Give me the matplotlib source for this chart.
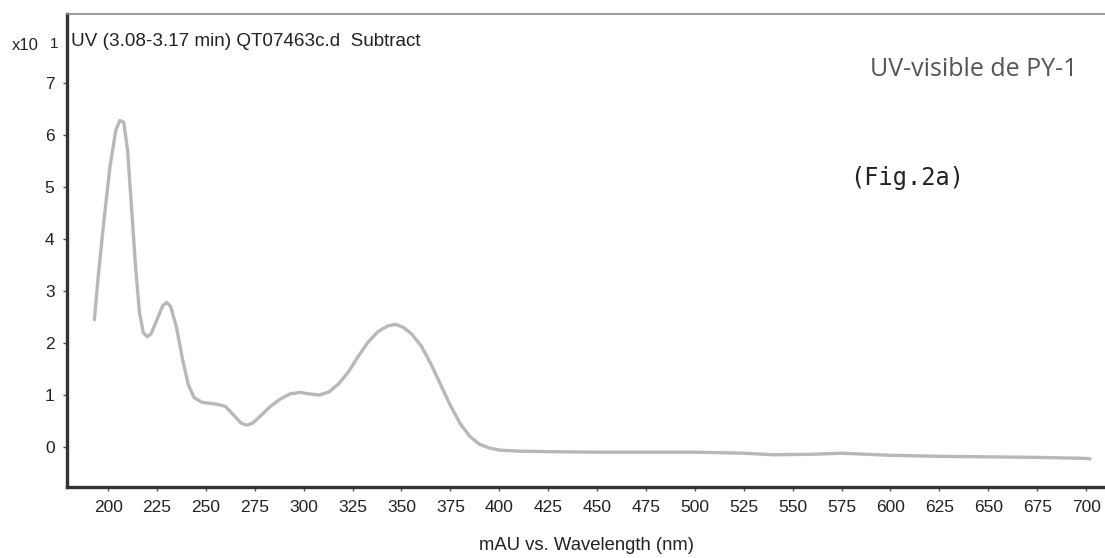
import matplotlib
matplotlib.use("Agg")
import matplotlib.pyplot as plt

wavelength = [193, 195, 198, 201, 204, 206, 208, 210, 212, 214, 216, 218, 220, 222,
              225, 228, 230, 232, 235, 238, 241, 244, 248, 252, 256, 260, 264, 268,
              271, 274, 278, 283, 288, 293, 298, 303, 308, 313, 318, 323, 328, 333,
              338, 343, 347, 351, 355, 360, 365, 370, 375, 380, 385, 390, 395, 400,
              410, 425, 450, 475, 500, 525, 540, 560, 575, 600, 625, 650, 675, 700, 702]
absorb = [2.45, 3.3, 4.4, 5.4, 6.1, 6.28, 6.25, 5.7, 4.6, 3.5, 2.6, 2.2, 2.12, 2.18,
          2.45, 2.72, 2.78, 2.7, 2.3, 1.7, 1.2, 0.95, 0.86, 0.84, 0.82, 0.78, 0.62, 0.46,
          0.42, 0.46, 0.6, 0.78, 0.92, 1.02, 1.05, 1.02, 1.0, 1.06, 1.22, 1.45, 1.75, 2.02,
          2.22, 2.33, 2.36, 2.3, 2.18, 1.95, 1.6, 1.2, 0.8, 0.45, 0.2, 0.05, -0.02, -0.06,
          -0.08, -0.09, -0.1, -0.1, -0.1, -0.12, -0.15, -0.14, -0.12, -0.16, -0.18, -0.19,
          -0.2, -0.22, -0.23]
xticks = list(range(200, 701, 25))
yticks = list(range(0, 8))

font = ['Liberation Sans', 'DejaVu Sans']

W, H = 1105, 558
fig = plt.figure(figsize=(W / 100, H / 100), dpi=100)
ax = fig.add_axes([67 / W, 1 - 487 / H, (1116 - 67) / W, (487 - 14) / H])
ax.plot(wavelength, absorb, color='#b8b8b8', lw=2.4, solid_capstyle='round',
        solid_joinstyle='round')
ax.set_xlim(179, 715.3)
ax.set_ylim(-0.77, 8.33)
ax.set_xticks(xticks)
ax.set_yticks(yticks)
ax.tick_params(axis='both', direction='out', length=3, width=1, colors='#555555',
               labelsize=12.5, labelcolor='#222222')
ax.tick_params(axis='x', pad=6)
ax.tick_params(axis='y', pad=6)
for lab in ax.get_xticklabels() + ax.get_yticklabels():
    lab.set_family(font)
for s in ['left', 'bottom']:
    ax.spines[s].set_linewidth(2.4)
    ax.spines[s].set_color('#333333')
ax.spines['top'].set_linewidth(1.2)
ax.spines['top'].set_color('#8a8a8a')
ax.spines['right'].set_visible(False)

ax.set_xlabel('mAU vs. Wavelength (nm)', fontsize=13.3, family=font, color='#222222')
ax.xaxis.set_label_coords(0.495, -0.124)
ax.xaxis.label.set_va('center')

fig.text(12 / W, 1 - 46 / H, 'x10', fontsize=12, family=font, color='#222222', va='center')
fig.text(50 / W, 1 - 44 / H, '1', fontsize=11, family=font, color='#222222', va='center')
fig.text(71 / W, 1 - 42 / H, 'UV (3.08-3.17 min) QT07463c.d  Subtract', fontsize=13.6,
         family=font, color='#222222', va='center')
fig.text(1078 / W, 1 - 69 / H, 'UV-visible de PY-1', fontsize=18,
         family=['Open Sans', 'DejaVu Sans'], color='#555555', ha='right', va='center')
fig.text(850 / W, 1 - 178 / H, '(Fig.2a)', fontsize=17, family=['DejaVu Sans Mono'],
         color='#222222', ha='left', va='center')

fig.savefig('out.png', dpi=100)
